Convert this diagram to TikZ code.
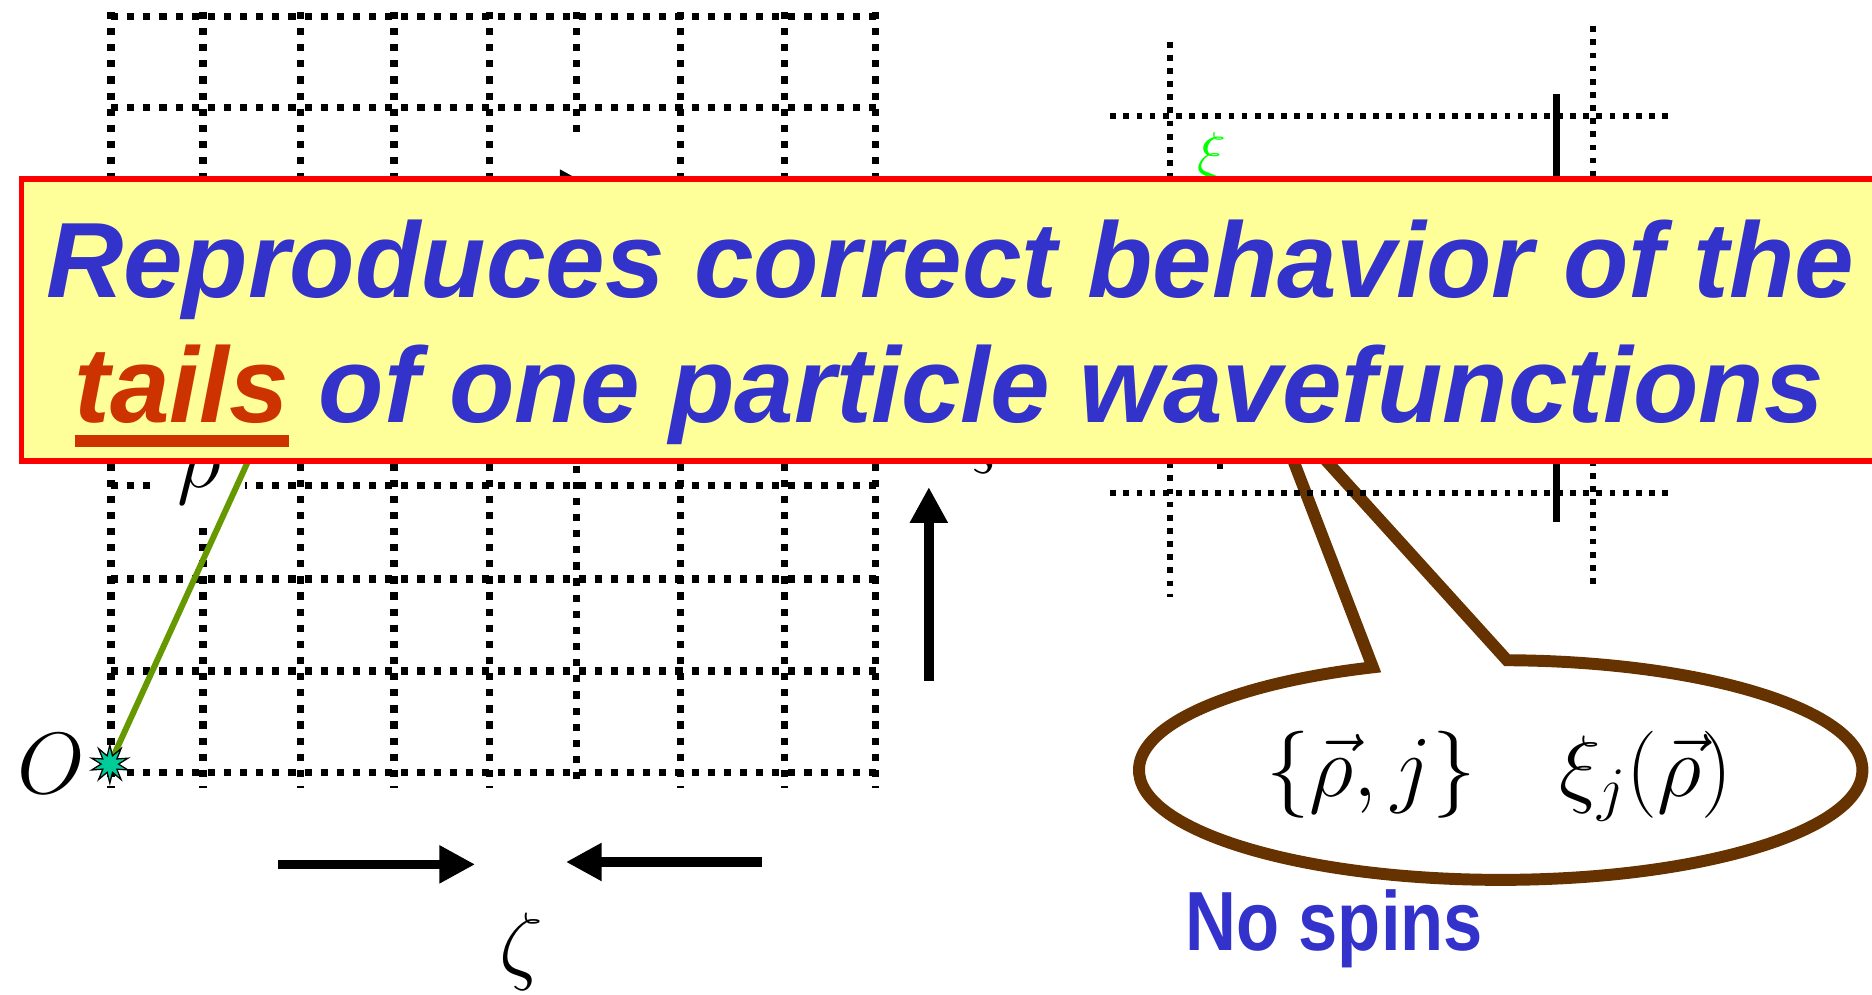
\documentclass[tikz,border=0pt]{standalone}
\usepackage{amsmath}
\usepackage{fontspec}
\usepackage{tikz}
\usetikzlibrary{arrows.meta,positioning,shapes.geometric}
\newfontfamily\bannerfont{Liberation Sans}
\newfontfamily\narrowfont{Liberation Sans}[FakeStretch=0.84]
\definecolor{bannerblue}{HTML}{3333CC}
\definecolor{bannerfill}{HTML}{FFFF99}
\definecolor{tailred}{HTML}{CC3300}
\definecolor{bubblebrown}{HTML}{663300}
\definecolor{rhogreen}{HTML}{669900}
\definecolor{starteal}{HTML}{00CC99}
\definecolor{xigreen}{HTML}{00FF00}
\newsavebox\tailsbox
\newcommand{\thickunder}[1]{\sbox\tailsbox{#1}\rlap{\rule[-0.2cm]{\wd\tailsbox}{0.1cm}}\usebox\tailsbox}
\tikzset{
  griddot/.style={line width=0.06cm, dash pattern=on 0.06cm off 0.075cm},
  finedot/.style={line width=0.048cm, dash pattern=on 0.048cm off 0.062cm},
  bigarrow/.style={line width=0.08cm, -{Triangle[length=0.3cm, width=0.3cm]}},
  greek/.style={font=\fontsize{20}{24}\selectfont, inner sep=0pt},
  banner/.style={draw=red, line width=0.05cm, fill=bannerfill},
  bannertext/.style={anchor=base, inner sep=0pt, text=bannerblue,
    font=\bannerfont\bfseries\itshape\fontsize{25.5}{30}\selectfont},
  bubble/.style={draw=bubblebrown, line width=0.1cm, fill=white},
}

\begin{document}
\begin{tikzpicture}[x=0.01cm, y=-0.01cm]
  \path[use as bounding box] (0,0) rectangle (1568,833);
  \clip (0,0) rectangle (1568,833);

  \coordinate (bc) at (1257,645);
  \coordinate (tip) at (1063,333);
  \draw[bubble] (1262.3,553) arc[start angle=-89, end angle=249.3, x radius=303, y radius=92] -- (tip) -- cycle;
  \node[font=\fontsize{20}{24}\selectfont] (states) at (1256,650) {$\{\vec{\rho},j\}\quad\xi_j(\vec{\rho})$};
  \node[anchor=base west, inner sep=0pt, text=bannerblue, font=\narrowfont\bfseries\fontsize{20}{24}\selectfont] (nospin) at (992,796) {No spins};

  \foreach \gx in {93,170,252,330,410,570,657,733}
    \draw[griddot] (\gx,10) -- (\gx,660);
  \draw[griddot] (483,10) -- (483,113) (483,390) -- (483,660);
  \foreach \gy in {14,90,169,248,328,407,485,562,647}
    \draw[griddot] (93,\gy) -- (740,\gy);

  \draw[finedot] (930,97) -- (1397,97) (930,413) -- (1397,413);
  \draw[finedot] (980,35) -- (980,500) (1334,22) -- (1334,490);
  \draw[line width=0.06cm] (1304,79) -- (1304,437);
  \draw[line width=0.045cm] (1022,372) -- (1022,393);
  \node[text=xigreen, font=\fontsize{14}{16}\selectfont, anchor=north, inner sep=0pt] (xismall) at (1015,110) {$\xi$};

  \node[greek, fill=white, inner xsep=0.2cm, inner ysep=0.14cm] (rho) at (167,400) {$\rho$};
  \coordinate (origin) at (92,640);
  \coordinate (rhoend) at (249,296);
  \draw[line width=0.05cm, rhogreen] (origin) -- (rhoend);
  \node[star, star points=10, star point ratio=2.2, minimum size=0.32cm, inner sep=0pt, draw=black, line width=0.3pt, fill=starteal] (o) at (origin) {};
  \node[greek, left=0.12cm of o] (olabel) {$O$};

  \coordinate (ta) at (330,158);
  \coordinate (tb) at (499,158);
  \draw[bigarrow] (ta) -- (tb);
  \coordinate (za) at (233,724);
  \coordinate (zb) at (398,724);
  \coordinate (zc) at (638,722);
  \coordinate (zd) at (474,722);
  \draw[bigarrow] (za) -- (zb);
  \draw[bigarrow] (zc) -- (zd);
  \node[greek] (zeta) at (437,797) {$\zeta$};

  \coordinate (ya) at (778,570);
  \coordinate (yb) at (778,408);
  \draw[bigarrow] (ya) -- (yb);
  \node[greek, anchor=south] (xilabel) at (822,397) {$\xi$};

  \draw[banner] (18,150) rectangle (1640,386);
  \node[bannertext] (bannerA) at (796,249) {Reproduces correct behavior of the};
  \node[bannertext] (bannerB) at (795,354) {\textcolor{tailred}{\thickunder{tails}} of one particle wavefunctions};
\end{tikzpicture}
\end{document}
